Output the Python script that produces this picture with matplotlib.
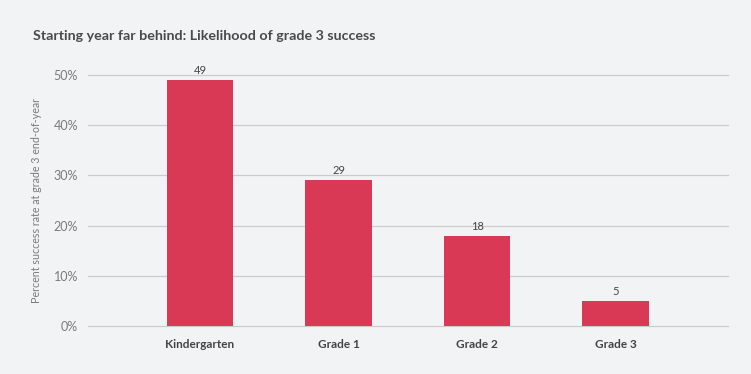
import matplotlib.pyplot as plt

categories = ["Kindergarten", "Grade 1", "Grade 2", "Grade 3"]
values = [49, 29, 18, 5]
yticks = [0, 10, 20, 30, 40, 50]

plt.rcParams['font.family'] = ['Lato', 'DejaVu Sans']

bg = "#f2f3f5"
fig = plt.figure(figsize=(7.51, 3.74), dpi=100, facecolor=bg)
ax = fig.add_axes([0.117, 0.128, 0.852, 0.672], facecolor=bg)

x = range(len(categories))
ax.bar(x, values, width=0.48, color="#d93954", zorder=3)
for xi, v in zip(x, values):
    ax.text(xi, v + 0.8, str(v), ha="center", va="bottom", fontsize=8,
            color="#444444")

ax.set_xlim(-0.81, 3.81)
ax.set_ylim(0, 50)
ax.set_yticks(yticks)
ax.set_yticklabels([f"{t}%" for t in yticks], fontsize=9, color="#7a7a7a")
ax.set_xticks(list(x))
ax.set_xticklabels(categories, fontsize=8.5, color="#444444", fontweight="bold")
ax.grid(axis="y", color="#cccccc", linewidth=0.9, zorder=0)
for gl in ax.get_ygridlines():
    gl.set_clip_on(False)
ax.tick_params(axis="y", length=0, pad=7)
ax.tick_params(axis="x", length=0, pad=9)
for s in ax.spines.values():
    s.set_visible(False)

ax.set_ylabel("Percent success rate at grade 3 end-of-year", fontsize=7.7,
              color="#7a7a7a")
ax.yaxis.set_label_coords(-0.072, 0.5)

fig.text(0.044, 0.905, "Starting year far behind: Likelihood of grade 3 success",
         fontsize=10.3, fontweight="bold", color="#4a4a4a", va="center")

fig.savefig("out.png", dpi=100, facecolor=bg)
